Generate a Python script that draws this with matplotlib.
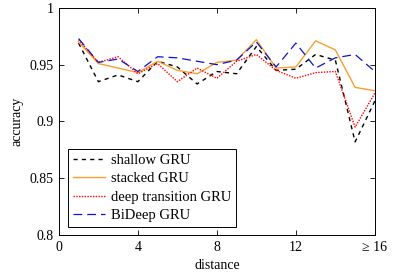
import numpy as np
import matplotlib.pyplot as plt

plt.rcParams["font.family"] = ["Liberation Serif", "DejaVu Serif"]

distance = np.arange(1, 17)
shallow = [0.969, 0.935, 0.941, 0.935, 0.953, 0.948, 0.933, 0.944,
           0.942, 0.966, 0.945, 0.946, 0.959, 0.954, 0.882, 0.918]
stacked = [0.970, 0.951, 0.947, 0.943, 0.953, 0.945, 0.942, 0.952,
           0.954, 0.972, 0.947, 0.948, 0.971, 0.963, 0.930, 0.927]
deep_trans = [0.972, 0.952, 0.957, 0.942, 0.951, 0.935, 0.947, 0.938,
              0.953, 0.959, 0.945, 0.938, 0.943, 0.944, 0.895, 0.925]
bideep = [0.973, 0.952, 0.955, 0.944, 0.957, 0.956, 0.953, 0.950,
          0.954, 0.970, 0.948, 0.969, 0.947, 0.956, 0.959, 0.944]

xticks = [0, 4, 8, 12, 16]
xticklabels = ["0", "4", "8", "12", "≥ 16"]
yticks = [0.8, 0.85, 0.9, 0.95, 1.0]
yticklabels = ["0.8", "0.85", "0.9", "0.95", "1"]

fig = plt.figure(figsize=(3.95, 2.72), dpi=100)
ax = fig.add_axes([0.149, 0.136, 0.800, 0.835])

ax.plot(distance, shallow, color="black", linestyle=(0, (3, 3)), linewidth=1.0,
        label="shallow GRU")
ax.plot(distance, stacked, color="#F5A030", linestyle="-", linewidth=1.0,
        label="stacked GRU")
ax.plot(distance, deep_trans, color="red", linestyle=(0, (1, 1)), linewidth=1.0,
        label="deep transition GRU")
ax.plot(distance, bideep, color="#1010D0", linestyle=(0, (7, 4)), linewidth=0.9,
        label="BiDeep GRU")

ax.set_xlim(0, 16)
ax.set_ylim(0.8, 1.0)
ax.set_xticks(xticks)
ax.set_xticklabels(xticklabels)
ax.set_yticks(yticks)
ax.set_yticklabels(yticklabels)
ax.tick_params(direction="in", top=True, right=True, labelsize=10, length=3.5,
               width=0.6, pad=4)
for s in ax.spines.values():
    s.set_linewidth(0.7)

ax.set_xlabel("distance", fontsize=10, labelpad=4)
ax.set_ylabel("accuracy", fontsize=10, labelpad=4)

leg = ax.legend(loc="lower left", bbox_to_anchor=(0.028, 0.035), fontsize=10.5,
                fancybox=False, edgecolor="black", framealpha=1,
                handlelength=2.2, handletextpad=0.4, borderpad=0.35,
                labelspacing=0.35, borderaxespad=0)
leg.get_frame().set_linewidth(0.7)

fig.savefig("out.png", dpi=100)
